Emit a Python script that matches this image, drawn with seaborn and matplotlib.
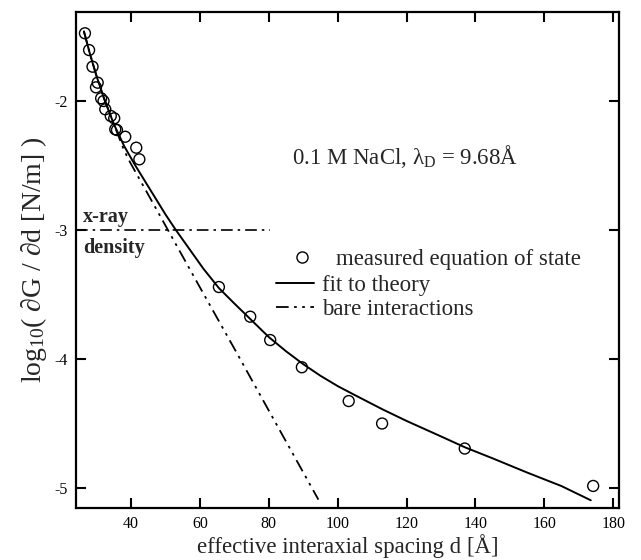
import numpy as np
import pandas as pd
import matplotlib
matplotlib.use("Agg")
import matplotlib.pyplot as plt
from matplotlib.lines import Line2D
import seaborn as sns

# measured equation of state
d_meas = [26.6, 27.8, 28.8, 30.3, 29.8, 31.3, 32.0, 32.5, 34.1, 35.1, 35.4, 35.9,
          38.3, 41.5, 42.4, 65.5, 74.6, 80.4, 89.6, 103.2, 112.9, 136.9, 174.2]
v_meas = [-1.475, -1.605, -1.734, -1.858, -1.894, -1.979, -2.00, -2.064, -2.116, -2.134,
          -2.219, -2.225, -2.277, -2.362, -2.452, -3.442, -3.672, -3.853, -4.064,
          -4.326, -4.50, -4.694, -4.984]

# fit to theory
d_fit = [26.3, 28, 30, 32, 35, 38, 41, 44, 47, 50, 53, 57, 61, 65.5, 70, 75, 80, 85,
         90, 95, 100, 105, 113, 120, 130, 137, 145, 155, 165, 173.5]
v_fit = [-1.46, -1.63, -1.81, -1.97, -2.18, -2.35, -2.49, -2.62, -2.75, -2.88, -3.00,
         -3.15, -3.30, -3.45, -3.57, -3.70, -3.83, -3.94, -4.04, -4.13, -4.21, -4.28,
         -4.39, -4.48, -4.60, -4.685, -4.77, -4.88, -4.985, -5.095]

# bare interactions
d_bare = [26.3, 28, 30, 32, 35, 38, 39.8, 45.9, 50.7, 60, 70, 80, 94.4]
v_bare = [-1.46, -1.63, -1.81, -1.97, -2.18, -2.385, -2.48, -2.77, -3.0, -3.445,
          -3.92, -4.40, -5.09]

# x-ray density limit
d_xray = [24.0, 80.4]
v_xray = [-3.0, -3.0]

x_ticks = [40, 60, 80, 100, 120, 140, 160, 180]
y_ticks = [-2, -3, -4, -5]

sns.set_theme(style="ticks")
plt.rcParams["font.family"] = ["Liberation Serif", "DejaVu Serif"]
plt.rcParams["axes.unicode_minus"] = False
plt.rcParams["mathtext.fontset"] = "custom"
plt.rcParams["mathtext.rm"] = "Liberation Serif"
plt.rcParams["mathtext.it"] = "Liberation Serif:italic"

W, H = 641, 560
fig = plt.figure(figsize=(W / 100, H / 100), dpi=100)
ax = fig.add_axes([76 / W, 1 - 508 / H, (619 - 76) / W, (508 - 12) / H])

meas = pd.DataFrame({"d": d_meas, "v": v_meas})
fit = pd.DataFrame({"d": d_fit, "v": v_fit})
bare = pd.DataFrame({"d": d_bare, "v": v_bare})
xray = pd.DataFrame({"d": d_xray, "v": v_xray})

DASH_BARE = [7, 3, 1.5, 3, 1.5, 3]
DASH_XRAY = [7, 3, 1.5, 3]

sns.lineplot(data=fit, x="d", y="v", ax=ax, color="black", lw=1.4, sort=False,
             estimator=None, legend=False)
sns.lineplot(data=bare, x="d", y="v", ax=ax, color="black", lw=1.3, sort=False,
             estimator=None, legend=False)
ax.lines[-1].set_dashes(DASH_BARE)
sns.lineplot(data=xray, x="d", y="v", ax=ax, color="black", lw=1.2, sort=False,
             estimator=None, legend=False)
ax.lines[-1].set_dashes(DASH_XRAY)
sns.scatterplot(data=meas, x="d", y="v", ax=ax, marker="o", s=62,
                facecolor="none", edgecolor="black", linewidth=1.0,
                legend=False, zorder=5)

ax.set_xlim(24.0, 181.7)
ax.set_ylim(-5.155, -1.31)
ax.set_xticks(x_ticks)
ax.set_yticks(y_ticks)
ax.set_xticklabels([str(t) for t in x_ticks])
ax.set_yticklabels([str(t) for t in y_ticks])
ax.tick_params(direction="in", length=7.5, width=1.5, top=True, right=True,
               labelsize=11.5, pad=6, colors="black")
for s in ax.spines.values():
    s.set_linewidth(1.6)
    s.set_color("black")

ax.set_xlabel("effective interaxial spacing d [Å]", fontsize=16.5, labelpad=1)
ax.set_ylabel(r"log$_{10}$( ∂G / ∂d [N/m] )", fontsize=20, labelpad=4)

ax.text(119.6, -2.434, r"0.1 M NaCl, λ$_{\mathrm{D}}$ = 9.68Å", fontsize=16.5,
        ha="center", va="center")
ax.text(26.0, -2.90, "x-ray", fontsize=14.5, fontweight="bold", ha="left", va="center")
ax.text(26.0, -3.14, "density", fontsize=14.5, fontweight="bold", ha="left", va="center")

FS = 16.5
h_meas = Line2D([], [], ls="none", marker="o", ms=8, mfc="none", mec="black", mew=1.0)
h_fit = Line2D([], [], color="black", lw=1.4)
h_bare = Line2D([], [], color="black", lw=1.3, dashes=DASH_BARE)

leg1 = ax.legend([h_meas], ["measured equation of state"], loc="upper left",
                 bbox_to_anchor=(291 / W, 1 - 249 / H), bbox_transform=fig.transFigure,
                 frameon=False, fontsize=FS, borderpad=0, borderaxespad=0,
                 handlelength=1.0, handletextpad=0.95)
ax.add_artist(leg1)
ax.legend([h_fit, h_bare], ["fit to theory", "bare interactions"], loc="upper left",
          bbox_to_anchor=(276 / W, 1 - 275 / H), bbox_transform=fig.transFigure,
          frameon=False, fontsize=FS, borderpad=0, borderaxespad=0,
          handlelength=1.65, handletextpad=0.36, labelspacing=0.12)

fig.savefig("out.png", dpi=100)
